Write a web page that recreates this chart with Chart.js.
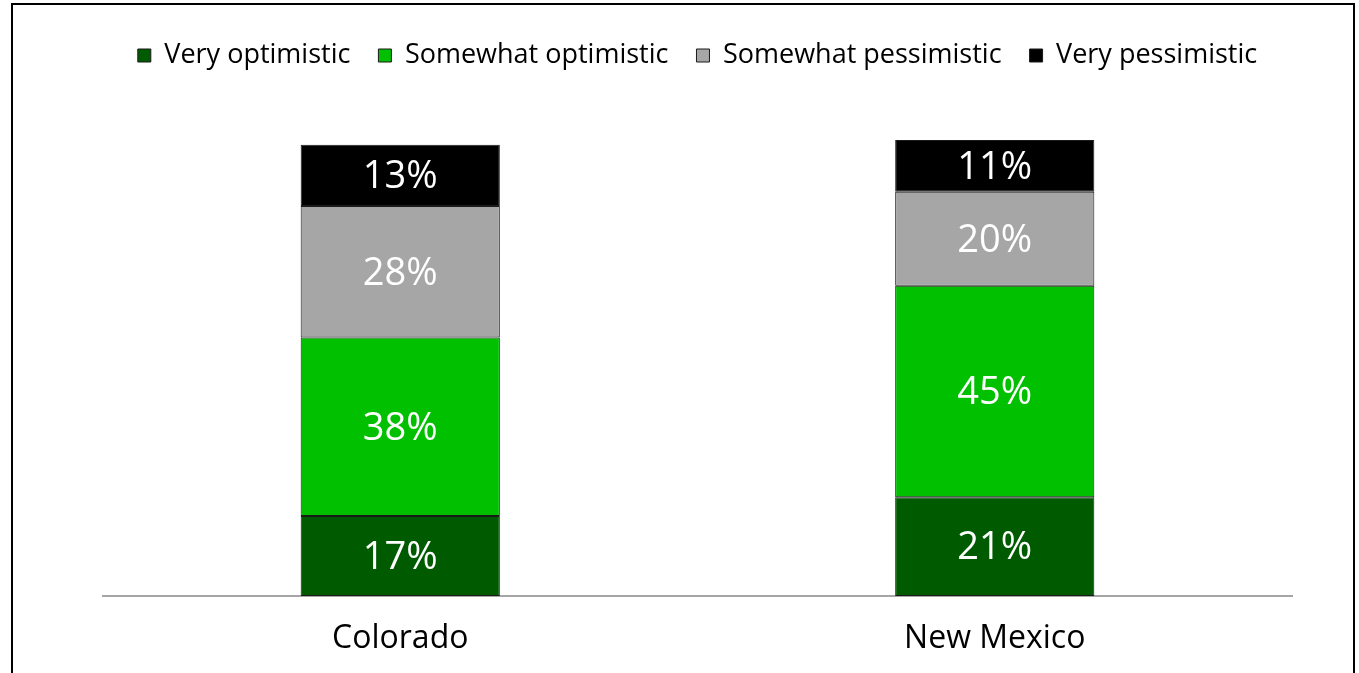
<!DOCTYPE html>
<html>
<head>
<meta charset="utf-8">
<script src="https://cdn.jsdelivr.net/npm/chart.js@4"></script>
<style>
  html, body { margin: 0; padding: 0; background: #fff; }
  #wrap { position: relative; width: 1359px; height: 673px; overflow: hidden; }
  #frame { position: absolute; left: 11px; top: 3px; width: 1340px; height: 700px;
           border: 2px solid #000; pointer-events: none; }
</style>
</head>
<body>
<div id="wrap">
  <canvas id="chart" width="1359" height="673"></canvas>
  <div id="frame"></div>
</div>
<script>
// data
var categories = ['Colorado', 'New Mexico'];
var veryOptimistic = [17, 21];
var somewhatOptimistic = [38, 45];
var somewhatPessimistic = [28, 20];
var veryPessimistic = [13, 11];

var FONT = '"Open Sans", "DejaVu Sans", sans-serif';

// draws the % labels in the middle of each segment
var segLabels = {
    id: 'segLabels',
    afterDatasetsDraw: function(chart) {
        var ctx = chart.ctx;
        ctx.save();
        ctx.font = '38px ' + FONT;
        ctx.fillStyle = '#fff';
        ctx.textAlign = 'center';
        ctx.textBaseline = 'middle';
        chart.data.datasets.forEach(function(ds, i) {
            chart.getDatasetMeta(i).data.forEach(function(bar, j) {
                var p = bar.getProps(['x', 'y', 'base'], true);
                ctx.fillText(ds.data[j] + '%', p.x, (p.y + p.base) / 2 + 2);
            });
        });
        ctx.restore();
    }
};

// fixed legend height so the plot starts where it should
var legendGap = {
    id: 'legendGap',
    beforeInit: function(chart) {
        var origFit = chart.legend.fit;
        chart.legend.fit = function() {
            origFit.bind(chart.legend)();
            this.height = 112;
        };
    }
};

function ds(label, data, color) {
    return {
        label: label,
        data: data,
        backgroundColor: color,
        borderColor: '#1a1a1a',
        borderWidth: 1,
        borderSkipped: false,
        barPercentage: 0.335,
        categoryPercentage: 1
    };
}

new Chart(document.getElementById('chart'), {
    type: 'bar',
    data: {
        labels: categories,
        datasets: [
            ds('Very optimistic', veryOptimistic, '#005a00'),
            ds('Somewhat optimistic', somewhatOptimistic, '#00c000'),
            ds('Somewhat pessimistic', somewhatPessimistic, '#a6a6a6'),
            ds('Very pessimistic', veryPessimistic, '#000000')
        ]
    },
    options: {
        responsive: false,
        animation: false,
        layout: { padding: { left: 103, right: 67, top: 14, bottom: 0 } },
        plugins: {
            legend: {
                position: 'top',
                labels: {
                    boxWidth: 13,
                    boxHeight: 13,
                    padding: 28,
                    color: '#000',
                    font: { family: FONT, size: 27 }
                }
            },
            tooltip: { enabled: false }
        },
        scales: {
            x: {
                stacked: true,
                grid: { display: false },
                border: { color: '#a6a6a6', width: 2 },
                ticks: { color: '#000', padding: 16, font: { family: FONT, size: 32 } },
                afterFit: function(scale) { scale.height = 77; }
            },
            y: {
                stacked: true,
                display: false,
                min: 0,
                max: 100
            }
        }
    },
    plugins: [segLabels, legendGap]
});
</script>
</body>
</html>
